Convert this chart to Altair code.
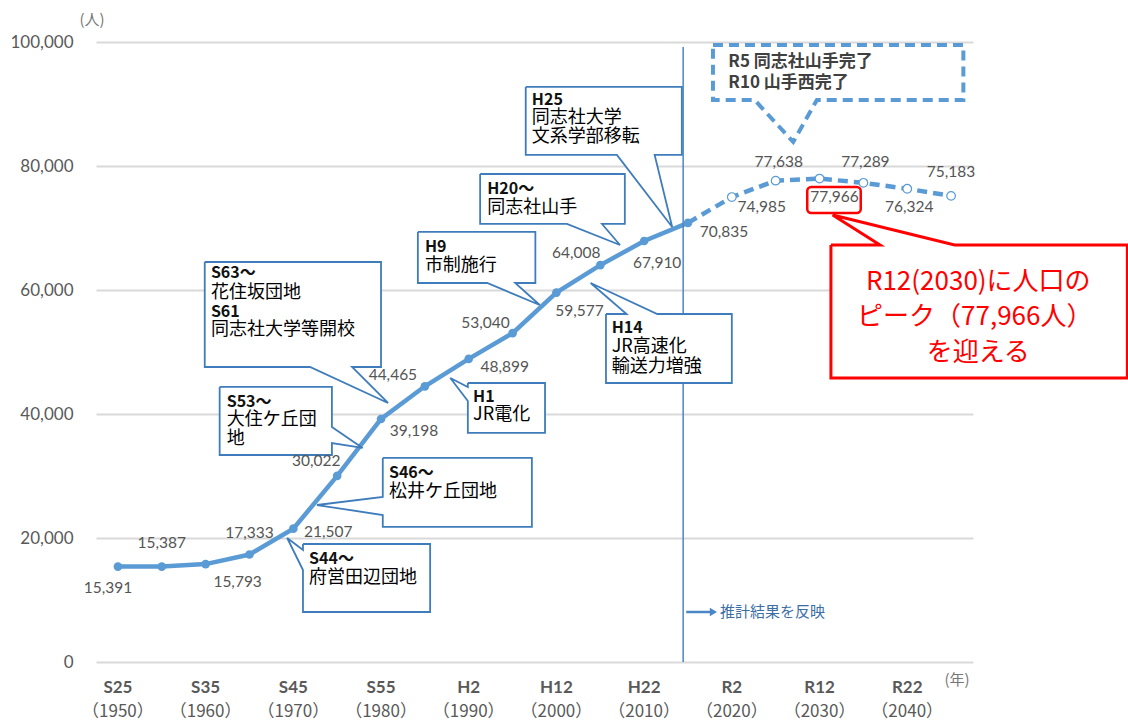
import altair as alt
import pandas as pd

# ---------------- data ----------------
years = [1950, 1955, 1960, 1965, 1970, 1975, 1980, 1985, 1990, 1995,
         2000, 2005, 2010, 2015, 2020, 2025, 2030, 2035, 2040, 2045]
population = [15391, 15387, 15793, 17333, 21507, 30022, 39198, 44465, 48899, 53040,
              59577, 64008, 67910, 70835, 74985, 77638, 77966, 77289, 76324, 75183]
# label placement offsets (pixels) relative to each point
label_dx = [-10, 0, 32, 0, 35, -21, 33, -32, 36, -27, 23, -24, 13, 36, 30, 3, 15, 2, 2, 0]
label_dy = [21, -24, 18, -22, 3, -15, 12, -11, 8, -10, 18, -12, 22, 9, 10, -19, 18, -21, 18, -24]

last_actual_year = 2015
tick_years = [1950, 1960, 1970, 1980, 1990, 2000, 2010, 2020, 2030, 2040]
era_labels = ["S25", "S35", "S45", "S55", "H2", "H12", "H22", "R2", "R12", "R22"]
year_labels = ["（1950）", "（1960）", "（1970）", "（1980）", "（1990）",
               "（2000）", "（2010）", "（2020）", "（2030）", "（2040）"]
y_ticks = [0, 20000, 40000, 60000, 80000, 100000]

# ---------------- annotation geometry (data units: year, persons) ----------------
callouts = [
    dict(name="S63", x0=1959.9, x1=1980.0, top=64520, bot=47580, side="bottom", a=1971.9, b=1976.7, tx=1980.8, ty=41780, kind="blue"),
    dict(name="S53", x0=1961.6, x1=1974.4, top=44360, bot=33390, side="right", a=37910, b=35320, tx=1977.9, ty=34520, kind="blue"),
    dict(name="S46", x0=1980.2, x1=1997.2, top=32910, bot=21780, side="left", a=26610, b=23710, tx=1972.7, ty=25320, kind="blue"),
    dict(name="S44", x0=1971.1, x1=1985.6, top=19030, bot=8065, side="left", a=18070, b=14840, tx=1969.3, ty=20000, kind="blue"),
    dict(name="H1", x0=1989.9, x1=1998.7, top=45000, bot=36940, side="left", a=44360, b=42100, tx=1987.9, ty=45810, kind="blue"),
    dict(name="H9", x0=1984.2, x1=1997.6, top=69360, bot=61130, side="bottom", a=1992.1, b=1995.3, tx=1998.1, ty=57580, kind="blue"),
    dict(name="H14", x0=2005.65, x1=2020.0, top=56130, bot=45000, side="top", a=2008.0, b=2011.5, tx=2003.9, ty=61130, kind="blue"),
    dict(name="H20", x0=1991.3, x1=2007.8, top=78710, bot=70650, side="bottom", a=2001.2, b=2005.2, tx=2007.25, ty=67260, kind="blue"),
    dict(name="H25", x0=1996.5, x1=2014.3, top=92750, bot=81780, side="bottom", a=2006.9, b=2011.2, tx=2013.2, ty=70170, kind="blue"),
    dict(name="R5", x0=2017.85, x1=2046.4, top=99520, bot=90650, side="bottom", a=2022.6, b=2029.7, tx=2027.0, ty=83880, kind="dash"),
    dict(name="PEAK", x0=2031.3, x1=2065.1, top=67260, bot=45810, side="top", a=2036.9, b=2045.4, tx=2031.5, ty=72100, kind="red"),
]

callout_lines = [
    (1960.6, 62750, "S63〜", True), (1960.6, 59520, "花住坂団地", False),
    (1960.6, 56460, "S61", True), (1960.6, 53550, "同志社大学等開校", False),
    (1962.4, 41940, "S53〜", True), (1962.4, 39030, "大住ケ丘団", False), (1962.4, 35970, "地", False),
    (1980.9, 30490, "S46〜", True), (1980.9, 27420, "松井ケ丘団地", False),
    (1971.8, 16610, "S44〜", True), (1971.8, 13550, "府営田辺団地", False),
    (1990.5, 42740, "H1", True), (1990.5, 39840, "JR電化", False),
    (1985.0, 66940, "H9", True), (1985.0, 63870, "市制施行", False),
    (2006.3, 53870, "H14", True), (2006.3, 50810, "JR高速化", False), (2006.3, 47580, "輸送力増強", False),
    (1992.1, 76290, "H20〜", True), (1992.1, 73230, "同志社山手", False),
    (1997.2, 90650, "H25", True), (1997.2, 87750, "同志社大学", False), (1997.2, 84680, "文系学部移転", False),
]
r_lines = [(2019.6, 96780, "R5  同志社山手完了"), (2019.6, 93390, "R10 山手西完了")]
peak_lines = [(2048.1, 61290, "R12(2030)に人口の"), (2047.7, 55650, "ピーク（77,966人）"),
              (2048.1, 49840, "を迎える")]
highlight = dict(x0=2028.6, x1=2034.7, top=76620, bot=72420)
forecast_year = 2014.45
forecast_top = 99200

# ---------------- layout ----------------
W, H = 877, 620
X_DOMAIN = [1947.5, 2047.5]
Y_DOMAIN = [0, 100000]
px_per_year = W / (X_DOMAIN[1] - X_DOMAIN[0])
px_per_person = H / (Y_DOMAIN[1] - Y_DOMAIN[0])

# ---------------- build tables ----------------
def outline(c):
    x0, x1, t, b = c["x0"], c["x1"], c["top"], c["bot"]
    tip = (c["tx"], c["ty"])
    s = c["side"]
    if s == "bottom":
        pts = [(x0, t), (x1, t), (x1, b), (c["b"], b), tip, (c["a"], b), (x0, b), (x0, t)]
    elif s == "top":
        pts = [(x0, t), (c["a"], t), tip, (c["b"], t), (x1, t), (x1, b), (x0, b), (x0, t)]
    elif s == "right":
        pts = [(x0, t), (x1, t), (x1, c["a"]), tip, (x1, c["b"]), (x1, b), (x0, b), (x0, t)]
    else:
        pts = [(x0, t), (x1, t), (x1, b), (x0, b), (x0, c["b"]), tip, (x0, c["a"]), (x0, t)]
    return pts

rows = []
for c in callouts:
    for i, (x, y) in enumerate(outline(c)):
        rows.append(dict(name=c["name"], kind=c["kind"], i=i, x=x, y=y))
shapes = pd.DataFrame(rows)

df = pd.DataFrame(dict(year=years, pop=population, dx=label_dx, dy=label_dy))
df["label"] = df["pop"].map(lambda v: f"{v:,}")
df["lx"] = df["year"] + df["dx"] / px_per_year
df["ly"] = df["pop"] - df["dy"] / px_per_person
actual = df[df.year <= last_actual_year]
proj = df[df.year >= last_actual_year]
proj_pts = df[df.year > last_actual_year]

ticks = pd.DataFrame(dict(year=tick_years, era=era_labels, yl=year_labels))
lines_df = pd.DataFrame(callout_lines, columns=["x", "y", "t", "bold"])

BLUE = "#5b9bd5"
BOX = "#3f7cbb"
GRAY = "#595959"
NUMFONT = "Lato"
JP = "Noto Sans CJK JP"

xs = alt.Scale(domain=X_DOMAIN, nice=False, zero=False)
ys = alt.Scale(domain=Y_DOMAIN, nice=False)
yaxis = alt.Axis(values=y_ticks, labelExpr="format(datum.value, ',')",
                 grid=True, gridColor="#d9d9d9", gridWidth=2, domain=False,
                 ticks=False, labelFontSize=17, labelColor=GRAY, labelFont=NUMFONT,
                 labelPadding=23, title=None)
X = lambda f: alt.X(f, scale=xs, axis=None)
Y = lambda f: alt.Y(f, scale=ys, axis=yaxis)

solid = alt.Chart(actual).mark_line(color=BLUE, strokeWidth=4.5).encode(x=X("year:Q"), y=Y("pop:Q"))
dashed = alt.Chart(proj).mark_line(color=BLUE, strokeWidth=4.5, strokeDash=[10, 6]).encode(
    x=X("year:Q"), y=Y("pop:Q"))
solid_pts = alt.Chart(actual).mark_point(shape="circle", filled=True, color=BLUE, size=75, opacity=1).encode(
    x=X("year:Q"), y=Y("pop:Q"))
hollow_pts = alt.Chart(proj_pts).mark_point(shape="circle", filled=True, fill="white", stroke=BLUE,
                                            strokeWidth=1.2, size=75, opacity=1).encode(
    x=X("year:Q"), y=Y("pop:Q"))

vlabels = alt.Chart(df).mark_text(fontSize=15.5, color="#555555", font=NUMFONT, baseline="middle").encode(
    x=X("lx:Q"), y=Y("ly:Q"), text="label:N")

rule_df = pd.DataFrame(dict(x=[forecast_year], y=[forecast_top], y2=[0]))
vrule = alt.Chart(rule_df).mark_rule(color="#4a86c5", strokeWidth=1.5).encode(
    x=X("x:Q"), y=Y("y:Q"), y2="y2:Q")

arrow_df = pd.DataFrame(dict(x=[2014.8, 2017.6], y=[8065, 8065]))
arrow = alt.Chart(arrow_df).mark_line(color="#4a86c5", strokeWidth=2.5).encode(x=X("x:Q"), y=Y("y:Q"))
head = alt.Chart(pd.DataFrame(dict(x=[2017.9], y=[8065]))).mark_point(
    shape="triangle-right", filled=True, color="#4a86c5", size=70, opacity=1).encode(x=X("x:Q"), y=Y("y:Q"))
arrow_txt = alt.Chart(pd.DataFrame(dict(x=[2018.65], y=[8065], t=["推計結果を反映"]))).mark_text(
    align="left", baseline="middle", fontSize=15, color="#3a6ea5", font=JP).encode(
    x=X("x:Q"), y=Y("y:Q"), text="t:N")

def shape_layer(kind, **style):
    return alt.Chart(shapes[shapes.kind == kind]).mark_line(**style).encode(
        x=X("x:Q"), y=Y("y:Q"), detail="name:N", order=alt.Order("i:Q"))

blue_shapes = shape_layer("blue", fill="white", stroke=BOX, strokeWidth=1.8, strokeJoin="miter")
dash_shapes = shape_layer("dash", fill="white", stroke=BLUE, strokeWidth=4, strokeDash=[10, 6])
red_shapes = shape_layer("red", fill="white", stroke="#ff0000", strokeWidth=3, strokeJoin="miter")

hl = alt.Chart(pd.DataFrame([highlight])).mark_rect(fill="transparent", stroke="#ff0000", strokeWidth=2.5,
                                                    cornerRadius=4).encode(
    x=X("x0:Q"), x2="x1:Q", y=Y("top:Q"), y2="bot:Q")

bold_txt = alt.Chart(lines_df[lines_df.bold]).mark_text(
    align="left", baseline="middle", fontSize=16, fontWeight="bold", color="#111", font=JP).encode(
    x=X("x:Q"), y=Y("y:Q"), text="t:N")
norm_txt = alt.Chart(lines_df[~lines_df.bold]).mark_text(
    align="left", baseline="middle", fontSize=18, color="#000", font=JP).encode(
    x=X("x:Q"), y=Y("y:Q"), text="t:N")
r_txt = alt.Chart(pd.DataFrame(r_lines, columns=["x", "y", "t"])).mark_text(
    align="left", baseline="middle", fontSize=17, fontWeight="bold", color="#404040", font=JP).encode(
    x=X("x:Q"), y=Y("y:Q"), text="t:N")
peak_txt = alt.Chart(pd.DataFrame(peak_lines, columns=["x", "y", "t"])).mark_text(
    align="center", baseline="middle", fontSize=26, color="#ff0000", font=JP).encode(
    x=X("x:Q"), y=Y("y:Q"), text="t:N")

era_txt = alt.Chart(ticks).mark_text(fontSize=17, fontWeight="bold", color=GRAY, font=NUMFONT,
                                     baseline="middle").encode(
    x=X("year:Q"), y=alt.value(646), text="era:N")
yr_txt = alt.Chart(ticks).mark_text(fontSize=17, color=GRAY, font=JP, baseline="middle").encode(
    x=X("year:Q"), y=alt.value(670), text="yl:N")

unit_y = alt.Chart(pd.DataFrame(dict(t=["(人)"]))).mark_text(
    fontSize=15, color="#777", font=JP, baseline="middle").encode(
    x=alt.value(-4), y=alt.value(-22), text="t:N")
unit_x = alt.Chart(pd.DataFrame(dict(t=["(年)"]))).mark_text(
    fontSize=15, color="#777", font=JP, baseline="middle").encode(
    x=alt.value(861), y=alt.value(638), text="t:N")

chart = alt.layer(
    solid, vrule, arrow, head, arrow_txt,
    blue_shapes, dash_shapes, red_shapes, hl,
    dashed, solid_pts, hollow_pts, vlabels,
    bold_txt, norm_txt, r_txt, peak_txt,
    era_txt, yr_txt, unit_y, unit_x,
).properties(
    width=W, height=H,
    background="white",
    padding={"left": 96, "top": 42, "right": 155, "bottom": 60},
    autosize=alt.AutoSizeParams(type="none"),
).configure_view(stroke="transparent", strokeWidth=0)

chart.save("out.html", embed_options={"renderer": "svg", "actions": False})
